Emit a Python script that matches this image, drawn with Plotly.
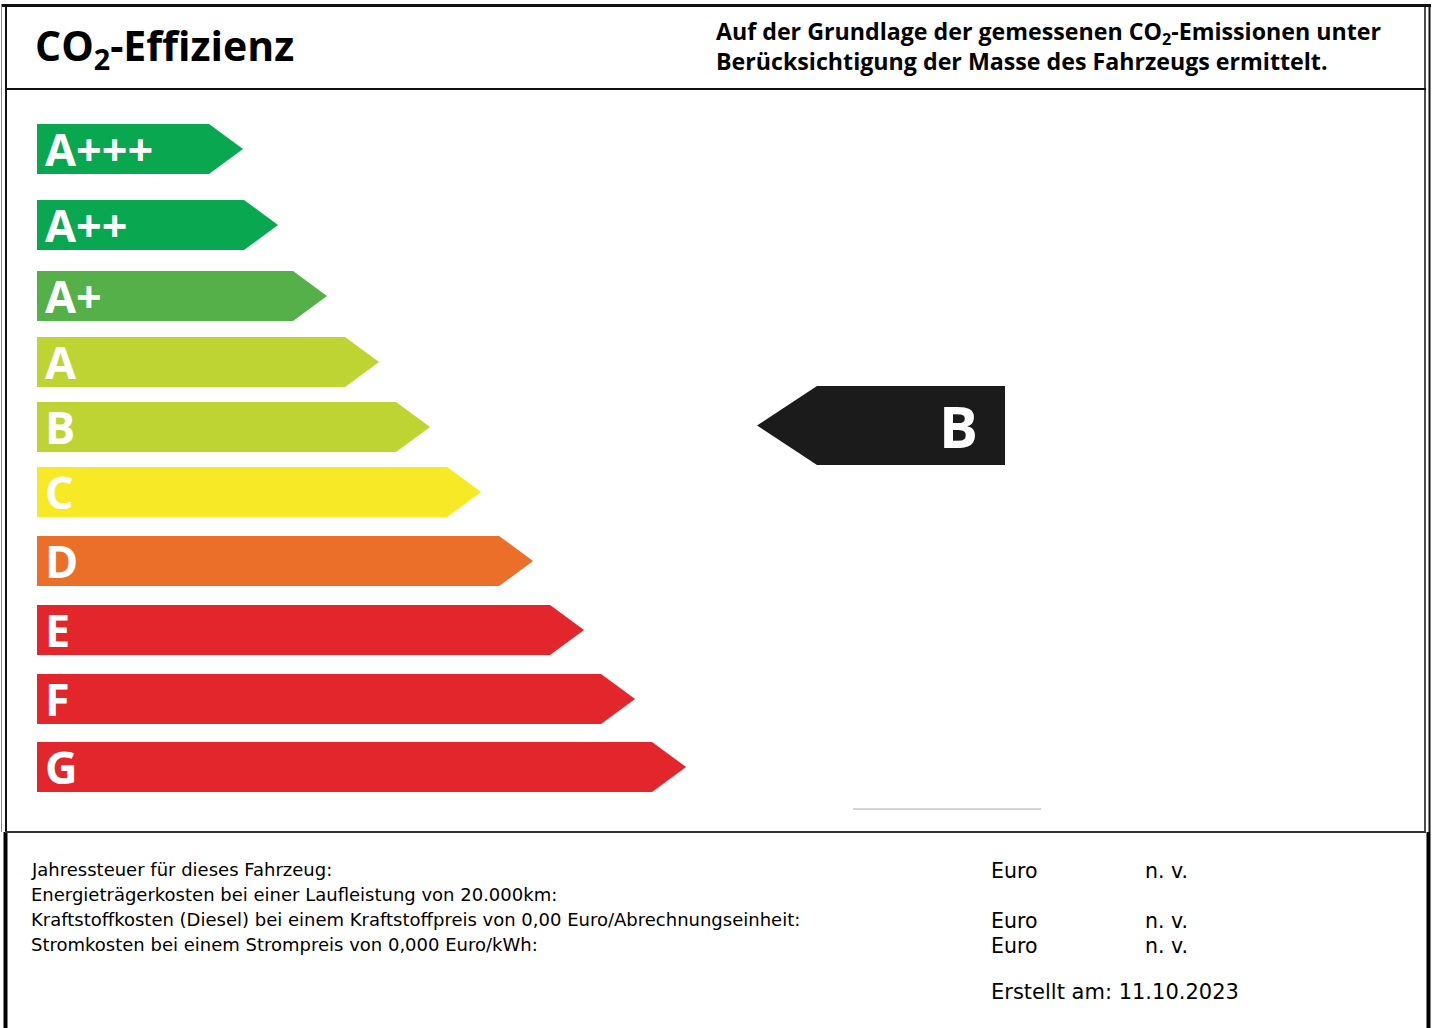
import plotly.graph_objects as go

# ---- data ----
classes = ["A+++", "A++", "A+", "A", "B", "C", "D", "E", "F", "G"]
arrow_length = [209, 244, 293, 345, 396, 447, 499, 550, 601, 652]
class_colors = ["#0aa751", "#0aa751", "#55b049", "#bed432", "#bed432",
                "#f7e925", "#ec6f29", "#e3262c", "#e3262c", "#e3262c"]
vehicle_class = "B"

title_main = "CO<sub>2</sub>-Effizienz"
header_lines = ["Auf der Grundlage der gemessenen CO<sub>2</sub>-Emissionen unter",
                "Berücksichtigung der Masse des Fahrzeugs ermittelt."]
cost_labels = ["Jahressteuer für dieses Fahrzeug:",
               "Energieträgerkosten bei einer Laufleistung von 20.000km:",
               "Kraftstoffkosten (Diesel) bei einem Kraftstoffpreis von 0,00 Euro/Abrechnungseinheit:",
               "Stromkosten bei einem Strompreis von 0,000 Euro/kWh:"]
cost_units = ["Euro", "", "Euro", "Euro"]
cost_values = ["n. v.", "", "n. v.", "n. v."]
created = "Erstellt am: 11.10.2023"

# ---- layout constants ----
W, H = 1435, 1028
row_top = [124, 200, 271, 337, 402, 467, 536, 605, 674, 742]
bar_h = 50
bar_x0 = 37
tip = 34

fig = go.Figure()

for i, c in enumerate(classes):
    y0 = row_top[i]
    y1 = y0 + bar_h
    ym = (y0 + y1) / 2
    xe = arrow_length[i]
    fig.add_trace(go.Scatter(
        x=[bar_x0, xe, xe + tip, xe, bar_x0, bar_x0],
        y=[y0, y0, ym, y1, y1, y0],
        mode="lines", fill="toself", fillcolor=class_colors[i],
        line=dict(width=0, color=class_colors[i]),
        hoverinfo="skip", showlegend=False))
    fig.add_annotation(x=bar_x0 + 6, y=ym - 1, text=c, xref="x", yref="y",
                       xanchor="left", yanchor="middle", showarrow=False,
                       font=dict(family="Open Sans", size=45, color="white", weight="bold"))

# vehicle indicator arrow
vi = classes.index(vehicle_class)
ind_top, ind_bot = 386, 465
ind_left, ind_body, ind_right = 757, 817, 1005
ind_mid = (ind_top + ind_bot) / 2
fig.add_trace(go.Scatter(
    x=[ind_left, ind_body, ind_right, ind_right, ind_body, ind_left],
    y=[ind_mid, ind_top, ind_top, ind_bot, ind_bot, ind_mid],
    mode="lines", fill="toself", fillcolor="#1b1b1b",
    line=dict(width=0, color="#1b1b1b"), hoverinfo="skip", showlegend=False))
fig.add_annotation(x=980, y=ind_mid, text=classes[vi], xref="x", yref="y",
                   xanchor="right", yanchor="middle", showarrow=False,
                   font=dict(family="Open Sans", size=58, color="white", weight="bold"))

# frame lines
line_col = "#111111"
shapes = [
    dict(type="line", x0=2, x1=1431, y0=5.5, y1=5.5, line=dict(color=line_col, width=3)),
    dict(type="line", x0=1.5, x1=1.5, y0=4, y1=832, line=dict(color="#888888", width=1)),
    dict(type="line", x0=6, x1=6, y0=4, y1=832, line=dict(color=line_col, width=2)),
    dict(type="line", x0=1425, x1=1425, y0=4, y1=832, line=dict(color=line_col, width=1.5)),
    dict(type="line", x0=1429.5, x1=1429.5, y0=4, y1=832, line=dict(color=line_col, width=2)),
    dict(type="line", x0=5.5, x1=5.5, y0=832, y1=H, line=dict(color="black", width=4)),
    dict(type="line", x0=1428.5, x1=1428.5, y0=832, y1=H, line=dict(color="black", width=4)),
    dict(type="line", x0=5, x1=1426, y0=89, y1=89, line=dict(color=line_col, width=2)),
    dict(type="line", x0=5, x1=1426, y0=832, y1=832, line=dict(color="#333333", width=2)),
    dict(type="line", x0=853, x1=1041, y0=809, y1=809, line=dict(color="#aaaaaa", width=1)),
]
for s in shapes:
    s.update(xref="x", yref="y", layer="above")
fig.update_layout(shapes=shapes)

# header texts
fig.add_annotation(x=33, y=47, text=title_main, xref="x", yref="y",
                   xanchor="left", yanchor="middle", showarrow=False,
                   font=dict(family="Open Sans", size=41, color="black", weight="bold"))
fig.add_annotation(x=714, y=46, text="<br>".join(header_lines), xref="x", yref="y",
                   xanchor="left", yanchor="middle", align="left", showarrow=False,
                   font=dict(family="Open Sans", size=23.2, color="black", weight="bold"))

# bottom cost block
label_y = [869, 894, 919, 944]
value_y = [871, 896, 921, 946]
for t, yy in zip(cost_labels, label_y):
    fig.add_annotation(x=29, y=yy, text=t, xref="x", yref="y",
                       xanchor="left", yanchor="middle", showarrow=False,
                       font=dict(family="DejaVu Sans", size=18, color="black"))
for u, v, yy in zip(cost_units, cost_values, value_y):
    if u:
        fig.add_annotation(x=989, y=yy, text=u, xref="x", yref="y",
                           xanchor="left", yanchor="middle", showarrow=False,
                           font=dict(family="DejaVu Sans", size=20.5, color="black"))
    if v:
        fig.add_annotation(x=1143, y=yy, text=v, xref="x", yref="y",
                           xanchor="left", yanchor="middle", showarrow=False,
                           font=dict(family="DejaVu Sans", size=20.5, color="black"))
fig.add_annotation(x=989, y=992, text=created, xref="x", yref="y",
                   xanchor="left", yanchor="middle", showarrow=False,
                   font=dict(family="DejaVu Sans", size=21, color="black"))

fig.update_layout(
    width=W, height=H,
    margin=dict(l=0, r=0, t=0, b=0),
    paper_bgcolor="white", plot_bgcolor="white",
    xaxis=dict(range=[0, W], visible=False, fixedrange=True),
    yaxis=dict(range=[H, 0], visible=False, fixedrange=True),
    showlegend=False,
)

fig.write_html("out.html", config={"displayModeBar": False},
               post_script="document.body.style.margin='0';document.body.style.overflow='hidden';")
